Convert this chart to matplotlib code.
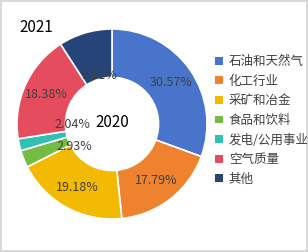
import numpy as np
import matplotlib.pyplot as plt
from matplotlib.patches import Patch

plt.rcParams['font.family'] = ['Noto Sans CJK SC', 'DejaVu Sans']

categories = ['石油和天然气', '化工行业', '采矿和冶金', '食品和饮料', '发电/公用事业', '空气质量', '其他']
shares = [30.57, 17.79, 19.18, 2.93, 2.04, 18.38, 9.11]
colors = ['#4874CB', '#EE822F', '#F2BA02', '#75BD42', '#30C0B4', '#E54C5E', '#264478']

# label radius as fraction of outer radius, and angle tweak (deg) for crowded labels
label_r = [0.76, 0.76, 0.76, 0.46, 0.42, 0.76, 0.53]
label_dang = [0, 0, 0, 10, -12.6, 0, -2]

fig = plt.figure(figsize=(3.08, 2.52), dpi=100)
fig.patch.set_edgecolor('#D9D9D9')
fig.patch.set_linewidth(1.5)

ax = fig.add_axes([0.0552, 0.131, 0.617, 0.754])
wedges, _ = ax.pie(shares, colors=colors, startangle=90, counterclock=False,
                   radius=1.0, wedgeprops=dict(width=0.51, edgecolor='white', linewidth=1.2))
ax.set_xlim(-1, 1)
ax.set_ylim(-1, 1)
ax.set_aspect('equal')

total = sum(shares)
cum = np.cumsum([0] + shares[:-1])
for i, v in enumerate(shares):
    mid = (cum[i] + v / 2) / total * 360
    theta = np.deg2rad(90 - mid + label_dang[i])
    x = label_r[i] * np.cos(theta)
    y = label_r[i] * np.sin(theta)
    ax.text(x, y, f'{v:.2f}%', ha='center', va='center', fontsize=9, color='#404040')

ax.text(0.0, 0.02, '2020', ha='center', va='center', fontsize=11, color='black')
fig.text(36 / 308, 1 - 27 / 252, '2021', ha='center', va='center', fontsize=11, color='black')

handles = [Patch(facecolor=c, edgecolor='none') for c in colors]
fig.legend(handles, categories, loc='upper left', bbox_to_anchor=(215 / 308, 1 - 55 / 252),
           frameon=False, fontsize=9, handlelength=0.6, handleheight=0.6,
           handletextpad=0.5, labelspacing=0.53, labelcolor='#404040',
           borderaxespad=0, borderpad=0)

plt.savefig('out.png', dpi=100)
